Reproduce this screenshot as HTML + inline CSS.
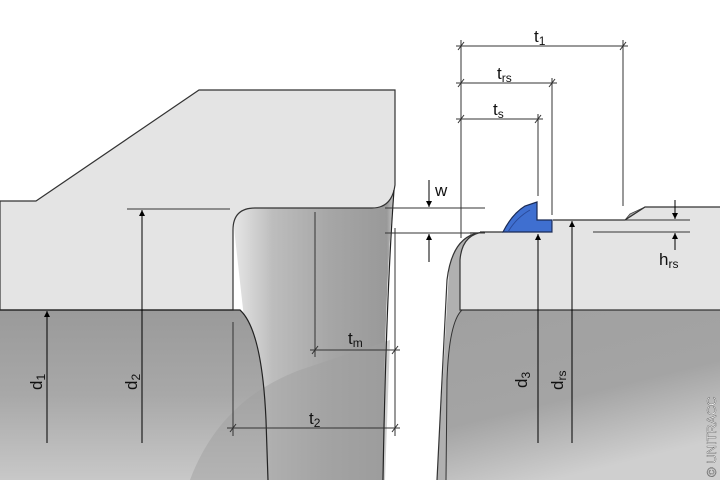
<!DOCTYPE html>
<html><head><meta charset="utf-8"><style>
html,body{margin:0;padding:0;background:#fff;}
svg{display:block;font-family:"Liberation Sans",sans-serif;}
</style></head><body>
<svg width="720" height="480" viewBox="0 0 720 480" xmlns="http://www.w3.org/2000/svg">
<defs>
<linearGradient id="cyl" x1="0" y1="0" x2="0" y2="1">
<stop offset="0" stop-color="#9a9a9a"/><stop offset="0.5" stop-color="#a8a8a8"/><stop offset="1" stop-color="#c8c8c8"/>
</linearGradient>
<linearGradient id="groove" x1="0" y1="0" x2="1" y2="0">
<stop offset="0" stop-color="#e8e8e8"/><stop offset="0.25" stop-color="#bdbdbd"/><stop offset="0.6" stop-color="#a6a6a6"/><stop offset="0.95" stop-color="#999"/><stop offset="1" stop-color="#d0d0d0"/>
</linearGradient>
<linearGradient id="rcyl" x1="0" y1="0" x2="0.4" y2="1">
<stop offset="0" stop-color="#a0a0a0"/><stop offset="0.6" stop-color="#a4a4a4"/><stop offset="1" stop-color="#cfcfcf"/>
</linearGradient>
<marker id="ar" viewBox="0 0 10 10" refX="10" refY="5" markerWidth="6" markerHeight="9" orient="auto" markerUnits="userSpaceOnUse"><path d="M0,0 L10,5 L0,10z" fill="#000"/></marker>
</defs>
<!-- left part -->
<path d="M232,210 L380,200 L395,185 L393,200 Q384,300 383,480 L262,480 Z" fill="url(#groove)"/>
<path d="M0,310 L240,310 Q262,330 266,420 L268,480 L0,480 Z" fill="url(#cyl)"/>
<path d="M190,480 Q220,400 300,370 L390,340 L385,480 Z" fill="#a0a0a0" opacity="0.5"/>
<path d="M0,201 L36,201 L199,90 L395,90 L395,185 Q392,208 372,208 L255,208 Q233,208 233,230 L233,310 L0,310 Z" fill="#e4e4e4" stroke="#333" stroke-width="1.2"/>
<path d="M0,310 L240,310 Q262,330 266,420 L268,480" fill="none" stroke="#222" stroke-width="1.2"/>
<path d="M394,190 Q386,300 383,480" fill="none" stroke="#222" stroke-width="1.2"/>
<!-- right part -->
<path d="M484,232 Q456,232 449,270 L437,480 L470,480 L470,232 Z" fill="#b0b0b0"/>
<path d="M462,310 Q449,322 447,380 L446,480 L720,480 L720,310 Z" fill="url(#rcyl)"/>
<path d="M484,232 Q462,234 460,260 L460,310 L720,310 L720,207 L645,207 L625,220 L553,220 L553,232 Z" fill="#e4e4e4"/>
<path d="M625,220 L645,207 L630,214 Z" fill="#aaa" stroke="#444" stroke-width="0.8"/>
<path d="M720,207 L645,207 L625,220 L553,220 M480,232 L503,232" fill="none" stroke="#333" stroke-width="1.2"/>
<path d="M484,232 Q462,234 460,260 L460,310 L720,310" fill="none" stroke="#333" stroke-width="1.2"/>
<path d="M478,233 Q452,238 447,280 L437,480" fill="none" stroke="#333" stroke-width="1.2"/>
<path d="M462,310 Q449,322 447,380 L446,480" fill="none" stroke="#333" stroke-width="1"/>
<!-- seal -->
<path d="M503,232 Q512,214 525,206 L537,202 L537,220 L552,220 L552,232 Z" fill="#3f6fd0" stroke="#1a2a55" stroke-width="1.2"/>
<path d="M508,232 Q516,218 530,210" fill="none" stroke="#2a4a9a" stroke-width="1"/>
<!-- dimension lines -->
<g stroke="#333" stroke-width="1" fill="none">
<line x1="461" y1="40" x2="461" y2="238"/><line x1="623" y1="40" x2="623" y2="206"/>
<line x1="552" y1="78" x2="552" y2="215"/><line x1="538" y1="114" x2="538" y2="196"/>
<line x1="456" y1="46" x2="628" y2="46"/><line x1="456" y1="83" x2="557" y2="83"/><line x1="456" y1="119" x2="543" y2="119"/>
<line x1="385" y1="208" x2="485" y2="208"/><line x1="385" y1="233" x2="485" y2="233"/>
<line x1="395" y1="228" x2="395" y2="436"/>
<line x1="127" y1="209" x2="230" y2="209"/>
<line x1="315" y1="212" x2="315" y2="357"/><line x1="233" y1="322" x2="233" y2="436"/>
<line x1="310" y1="350" x2="400" y2="350"/><line x1="227" y1="428" x2="400" y2="428"/>
<line x1="593" y1="220" x2="690" y2="220"/><line x1="593" y1="232" x2="690" y2="232"/>
</g>
<g stroke="#333" stroke-width="1">
<line x1="458" y1="50" x2="464" y2="42"/><line x1="620" y1="50" x2="626" y2="42"/>
<line x1="458" y1="87" x2="464" y2="79"/><line x1="549" y1="87" x2="555" y2="79"/>
<line x1="458" y1="123" x2="464" y2="115"/><line x1="535" y1="123" x2="541" y2="115"/>
<line x1="312" y1="354" x2="318" y2="346"/><line x1="392" y1="354" x2="398" y2="346"/>
<line x1="230" y1="432" x2="236" y2="424"/><line x1="392" y1="432" x2="398" y2="424"/>
</g>
<g stroke="#000" stroke-width="1" marker-end="url(#ar)">
<line x1="47" y1="443" x2="47" y2="311"/>
<line x1="142" y1="443" x2="142" y2="210"/>
<line x1="538" y1="443" x2="538" y2="234"/>
<line x1="572" y1="443" x2="572" y2="221"/>
<line x1="429" y1="180" x2="429" y2="207"/>
<line x1="429" y1="262" x2="429" y2="234"/>
<line x1="675" y1="200" x2="675" y2="219"/>
<line x1="675" y1="250" x2="675" y2="233"/>
</g>
<!-- labels -->
<g font-size="17" fill="#111">
<text x="534" y="42">t<tspan font-size="12" dy="3">1</tspan></text>
<text x="497" y="79">t<tspan font-size="12" dy="3">rs</tspan></text>
<text x="493" y="115">t<tspan font-size="12" dy="3">s</tspan></text>
<text x="435" y="196">w</text>
<text x="659" y="265">h<tspan font-size="12" dy="3">rs</tspan></text>
<text x="348" y="344">t<tspan font-size="12" dy="3">m</tspan></text>
<text x="309" y="424">t<tspan font-size="12" dy="3">2</tspan></text>
<text transform="translate(42,390) rotate(-90)">d<tspan font-size="12" dy="3">1</tspan></text>
<text transform="translate(137,390) rotate(-90)">d<tspan font-size="12" dy="3">2</tspan></text>
<text transform="translate(527,388) rotate(-90)">d<tspan font-size="12" dy="3">3</tspan></text>
<text transform="translate(563,390) rotate(-90)">d<tspan font-size="12" dy="3">rs</tspan></text>
<text transform="translate(716,477) rotate(-90)" font-size="13" fill="#fff" stroke="#555" stroke-width="0.4">© UNITRACC</text>
</g>
</svg>
</body></html>
